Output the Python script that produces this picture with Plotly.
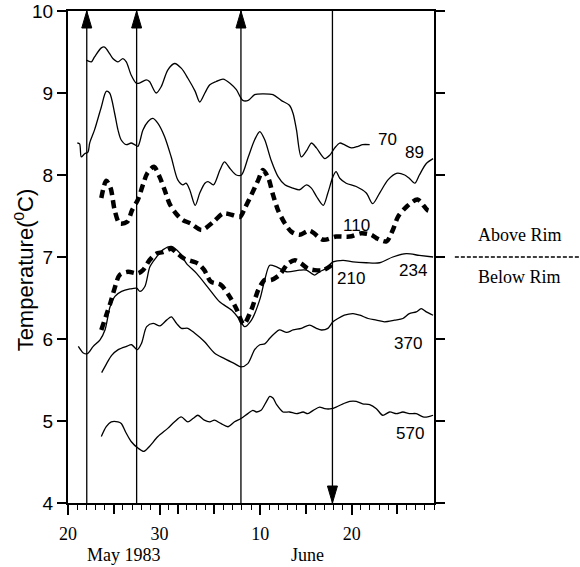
import plotly.graph_objects as go

# ---- data (x = days since 20 May 1983) ----
s70_day = [2.0, 2.55, 2.9, 3.64, 4.0, 4.55, 4.9, 5.46, 6.0, 6.37, 6.9, 7.46, 7.8, 8.55, 8.9, 9.64, 10.2, 10.9, 11.65, 12.4, 13.1, 13.9, 14.4, 14.96, 15.5, 16.2, 16.95, 17.7, 18.4, 19.1, 19.7, 20.4, 21.3, 22.4, 23.3, 24.2, 24.6, 24.97, 25.5, 26.1, 26.6, 27.15, 28.06, 28.6, 29.15, 29.7, 30.2, 30.97, 31.7, 32.2, 32.97]
s70_t = [9.40, 9.38, 9.44, 9.55, 9.56, 9.48, 9.42, 9.38, 9.42, 9.38, 9.22, 9.12, 9.12, 9.16, 9.14, 9.00, 9.08, 9.28, 9.36, 9.30, 9.18, 9.02, 8.89, 9.00, 9.10, 9.14, 9.17, 9.12, 9.04, 8.91, 8.91, 8.98, 8.99, 8.98, 8.91, 8.85, 8.75, 8.55, 8.22, 8.30, 8.39, 8.33, 8.20, 8.24, 8.33, 8.39, 8.37, 8.33, 8.35, 8.37, 8.37]

s89_day = [1.02, 1.27, 1.45, 1.82, 2.18, 2.37, 2.9, 3.64, 4.18, 4.55, 5.1, 5.46, 5.8, 6.37, 6.9, 7.28, 7.64, 8.19, 8.73, 9.28, 9.83, 10.55, 11.28, 12.0, 12.55, 12.9, 13.3, 13.9, 14.4, 14.96, 15.3, 15.9, 16.6, 17.1, 17.7, 18.4, 18.96, 19.7, 20.4, 20.96, 21.5, 22.2, 22.96, 23.7, 24.6, 25.3, 26.06, 26.6, 27.15, 27.9, 28.4, 28.96, 29.3, 29.7, 30.4, 31.5, 32.6, 33.3, 34.06, 34.97, 35.9, 36.8, 37.3, 37.9, 38.4, 39.16, 39.9]
s89_t = [8.39, 8.38, 8.22, 8.26, 8.28, 8.39, 8.55, 8.83, 9.02, 9.00, 8.75, 8.55, 8.43, 8.37, 8.39, 8.37, 8.35, 8.55, 8.65, 8.69, 8.63, 8.47, 8.22, 7.94, 7.88, 7.90, 7.82, 7.63, 7.78, 7.90, 7.92, 7.88, 8.06, 8.16, 8.08, 8.00, 8.00, 8.22, 8.43, 8.53, 8.43, 8.18, 7.98, 7.88, 7.84, 7.82, 7.88, 7.84, 7.74, 7.63, 7.78, 7.98, 8.04, 7.96, 7.90, 7.86, 7.78, 7.65, 7.78, 7.94, 8.02, 8.00, 7.96, 7.90, 8.00, 8.14, 8.20]

s110_day = [3.64, 4.18, 4.66, 5.1, 5.64, 6.47, 7.0, 7.64, 8.19, 8.66, 9.39, 10.0, 10.55, 11.1, 11.8, 12.55, 13.4, 14.6, 15.9, 16.95, 18.05, 18.8, 19.3, 20.05, 20.8, 21.3, 21.9, 22.4, 22.96, 23.7, 24.4, 25.3, 26.4, 27.9, 29.3, 30.8, 32.06, 33.15, 33.7, 34.8, 35.5, 36.06, 36.97, 38.2, 39.3, 39.7]
s110_t = [7.72, 7.93, 7.84, 7.57, 7.41, 7.43, 7.57, 7.70, 7.88, 8.02, 8.10, 7.98, 7.82, 7.65, 7.53, 7.45, 7.41, 7.33, 7.43, 7.53, 7.51, 7.49, 7.59, 7.76, 7.94, 8.06, 7.96, 7.76, 7.57, 7.41, 7.31, 7.27, 7.32, 7.21, 7.25, 7.25, 7.29, 7.27, 7.23, 7.19, 7.33, 7.49, 7.61, 7.70, 7.57, 7.56]

s210_day = [3.64, 4.18, 4.66, 5.1, 5.64, 6.55, 7.64, 8.19, 8.9, 9.64, 10.37, 11.28, 11.8, 12.7, 14.2, 14.9, 15.6, 16.7, 17.65, 18.4, 19.2, 20.05, 20.8, 21.5, 22.2, 23.1, 24.05, 24.8, 25.5, 26.2, 26.96, 27.9, 28.8, 29.0]
s210_t = [6.11, 6.29, 6.45, 6.62, 6.78, 6.82, 6.80, 6.84, 6.96, 7.04, 7.06, 7.10, 7.06, 6.98, 6.92, 6.84, 6.70, 6.66, 6.52, 6.37, 6.18, 6.36, 6.60, 6.72, 6.72, 6.78, 6.92, 6.96, 6.92, 6.86, 6.84, 6.84, 6.90, 6.92]

s234_day = [1.13, 1.67, 2.1, 2.76, 3.5, 4.04, 4.59, 5.13, 5.86, 6.77, 7.5, 7.86, 8.4, 8.95, 9.68, 10.4, 11.3, 12.2, 12.96, 14.05, 15.5, 16.6, 17.9, 18.8, 19.3, 20.05, 20.96, 21.5, 22.05, 22.8, 23.9, 25.3, 26.06, 26.96, 27.5, 28.2, 28.96, 30.06, 31.15, 32.6, 34.06, 35.5, 36.97, 38.4, 39.9]
s234_t = [5.91, 5.83, 5.82, 5.91, 5.99, 6.11, 6.39, 6.52, 6.58, 6.61, 6.62, 6.58, 6.64, 6.88, 7.00, 7.09, 7.13, 7.05, 6.92, 6.80, 6.60, 6.45, 6.35, 6.23, 6.15, 6.23, 6.48, 6.72, 6.90, 6.88, 6.82, 6.84, 6.84, 6.78, 6.82, 6.86, 6.94, 6.96, 6.94, 6.93, 6.93, 7.00, 7.04, 7.02, 7.00]

s370_day = [3.68, 4.22, 4.77, 5.49, 6.4, 6.95, 7.57, 8.04, 8.6, 9.3, 10.04, 10.77, 11.3, 11.86, 12.4, 13.1, 13.86, 14.9, 16.0, 17.1, 18.2, 18.9, 19.65, 20.4, 20.96, 21.5, 22.05, 22.6, 23.1, 23.9, 24.6, 25.5, 26.4, 27.15, 27.7, 28.4, 28.96, 29.5, 30.2, 31.15, 31.9, 32.8, 33.7, 34.6, 35.7, 36.6, 37.3, 38.06, 38.6, 39.16, 39.9]
s370_t = [5.59, 5.70, 5.80, 5.87, 5.91, 5.93, 5.87, 5.95, 6.15, 6.19, 6.16, 6.23, 6.27, 6.19, 6.13, 6.13, 6.07, 5.97, 5.83, 5.76, 5.70, 5.66, 5.70, 5.87, 5.93, 5.94, 6.01, 6.07, 6.11, 6.08, 6.11, 6.13, 6.17, 6.13, 6.11, 6.13, 6.21, 6.25, 6.29, 6.31, 6.29, 6.25, 6.23, 6.21, 6.23, 6.25, 6.31, 6.33, 6.37, 6.33, 6.29]

s570_day = [3.64, 4.18, 4.73, 5.46, 5.82, 6.37, 6.9, 7.64, 8.3, 8.9, 9.83, 10.9, 11.65, 12.37, 13.1, 13.65, 14.2, 14.9, 15.5, 16.0, 16.7, 17.5, 18.2, 18.9, 19.65, 20.2, 20.6, 21.1, 21.7, 22.05, 22.4, 22.8, 23.5, 24.2, 24.97, 25.7, 26.2, 26.8, 27.5, 28.06, 28.8, 29.3, 30.06, 30.8, 31.5, 32.2, 32.97, 33.7, 34.4, 35.15, 35.9, 36.6, 37.3, 38.06, 38.8, 39.3, 39.9]
s570_t = [4.81, 4.93, 4.99, 4.99, 4.97, 4.85, 4.75, 4.67, 4.63, 4.69, 4.81, 4.91, 4.99, 5.05, 4.99, 5.03, 5.07, 5.01, 4.99, 5.01, 4.97, 4.93, 4.99, 5.03, 5.09, 5.13, 5.11, 5.13, 5.24, 5.30, 5.28, 5.20, 5.11, 5.11, 5.09, 5.11, 5.09, 5.13, 5.17, 5.15, 5.15, 5.17, 5.21, 5.24, 5.24, 5.21, 5.20, 5.15, 5.07, 5.11, 5.09, 5.11, 5.09, 5.09, 5.05, 5.05, 5.07]

series_names = ["70", "89", "110", "210", "234", "370", "570"]
series_dashed = [False, False, True, True, False, False, False]

event_days = [2.05, 7.5, 18.9, 28.9]
event_dirs = ["up", "up", "up", "down"]

x_tick_vals = [0, 10, 21, 31]
x_tick_text = ["20", "30", "10", "20"]
x_long_ticks = [5, 10, 12, 16, 21, 26, 31, 36]
month_labels = ["May 1983", "June"]
month_days = [6.1, 26.2]

# label placement (day, temperature)
label_pos = {"70": (34.9, 8.43), "89": (37.9, 8.28), "110": (31.5, 7.39),
             "210": (30.9, 6.74), "234": (37.7, 6.83), "370": (37.2, 5.95),
             "570": (37.4, 4.85)}

SANS = "Liberation Sans, Arial, sans-serif"
SERIF = "Liberation Serif, Times New Roman, serif"

series_x = [s70_day, s89_day, s110_day, s210_day, s234_day, s370_day, s570_day]
series_y = [s70_t, s89_t, s110_t, s210_t, s234_t, s370_t, s570_t]

fig = go.Figure()
for name, xs, ys, dashed in zip(series_names, series_x, series_y, series_dashed):
    if dashed:
        line = dict(color="black", width=4.5, dash="8px,5px", shape="spline", smoothing=0.8)
    else:
        line = dict(color="black", width=1.3, shape="spline", smoothing=0.8)
    fig.add_trace(go.Scatter(x=xs, y=ys, mode="lines", line=line, name=name,
                             hoverinfo="skip"))
# empty trace to carry the long-tick axis
fig.add_trace(go.Scatter(x=[], y=[], xaxis="x2", yaxis="y", mode="lines",
                         hoverinfo="skip", showlegend=False))

shapes = []
for d, direction in zip(event_days, event_dirs):
    shapes.append(dict(type="line", xref="x", yref="y", x0=d, x1=d, y0=4, y1=10,
                       line=dict(color="black", width=1.3)))
    if direction == "up":
        path = "M0,0 L-5,-17 L5,-17 Z"
        ya = 10
    else:
        path = "M0,0 L-5,17 L5,17 Z"
        ya = 4
    shapes.append(dict(type="path", xref="x", yref="y", xsizemode="pixel", ysizemode="pixel",
                       xanchor=d, yanchor=ya, path=path, fillcolor="black",
                       line=dict(color="black", width=1)))
# Above/Below Rim divider
shapes.append(dict(type="line", xref="paper", yref="y", x0=1.057, x1=1.40, y0=7, y1=7,
                   line=dict(color="black", width=1.3, dash="4px,2px")))

annotations = []
for name in series_names:
    lx, ly = label_pos[name]
    annotations.append(dict(x=lx, y=ly, xref="x", yref="y", text=name, showarrow=False,
                            xanchor="center", yanchor="middle",
                            font=dict(family=SANS, size=17, color="black")))
for txt, d in zip(month_labels, month_days):
    annotations.append(dict(x=d, y=-0.105, xref="x", yref="paper", text=txt, showarrow=False,
                            font=dict(family=SERIF, size=18, color="black"),
                            xanchor="center", yanchor="middle"))
annotations.append(dict(x=-0.12, y=0.473, xref="paper", yref="paper",
                        text="Temperature(<sup>0</sup>C)", textangle=-90, showarrow=False,
                        font=dict(family=SANS, size=22, color="black"),
                        xanchor="center", yanchor="middle"))
annotations.append(dict(x=1.234, y=7.27, xref="paper", yref="y", text="Above Rim",
                        showarrow=False, xanchor="center", yanchor="middle",
                        font=dict(family=SERIF, size=18, color="black")))
annotations.append(dict(x=1.234, y=6.76, xref="paper", yref="y", text="Below Rim",
                        showarrow=False, xanchor="center", yanchor="middle",
                        font=dict(family=SERIF, size=18, color="black")))

fig.update_layout(
    width=580, height=567,
    margin=dict(l=68, r=146, t=11, b=64),
    paper_bgcolor="white", plot_bgcolor="white",
    showlegend=False,
    shapes=shapes, annotations=annotations,
    xaxis=dict(range=[0, 40], showgrid=False, zeroline=False, automargin=False,
               showline=True, linecolor="black", linewidth=2, mirror=True,
               tickmode="array", tickvals=x_tick_vals, ticktext=x_tick_text,
               ticks="outside", ticklen=10, tickwidth=1.5, tickcolor="black",
               ticklabelstandoff=3,
               tickfont=dict(family=SERIF, size=18, color="black"),
               minor=dict(tickmode="linear", tick0=0, dtick=1, ticks="outside",
                          ticklen=5, tickwidth=1.3, tickcolor="black", showgrid=False)),
    xaxis2=dict(range=[0, 40], overlaying="x", anchor="y", side="bottom",
                showgrid=False, zeroline=False, showline=False, automargin=False,
                tickmode="array", tickvals=x_long_ticks, showticklabels=False,
                ticks="outside", ticklen=10, tickwidth=1.5, tickcolor="black"),
    yaxis=dict(range=[4, 10], showgrid=False, zeroline=False, automargin=False,
               showline=True, linecolor="black", linewidth=2, mirror="ticks",
               tickmode="linear", tick0=4, dtick=1,
               ticks="outside", ticklen=9, tickwidth=2, tickcolor="black",
               tickfont=dict(family=SANS, size=19, color="black")),
)

fig.write_html("out.html")
